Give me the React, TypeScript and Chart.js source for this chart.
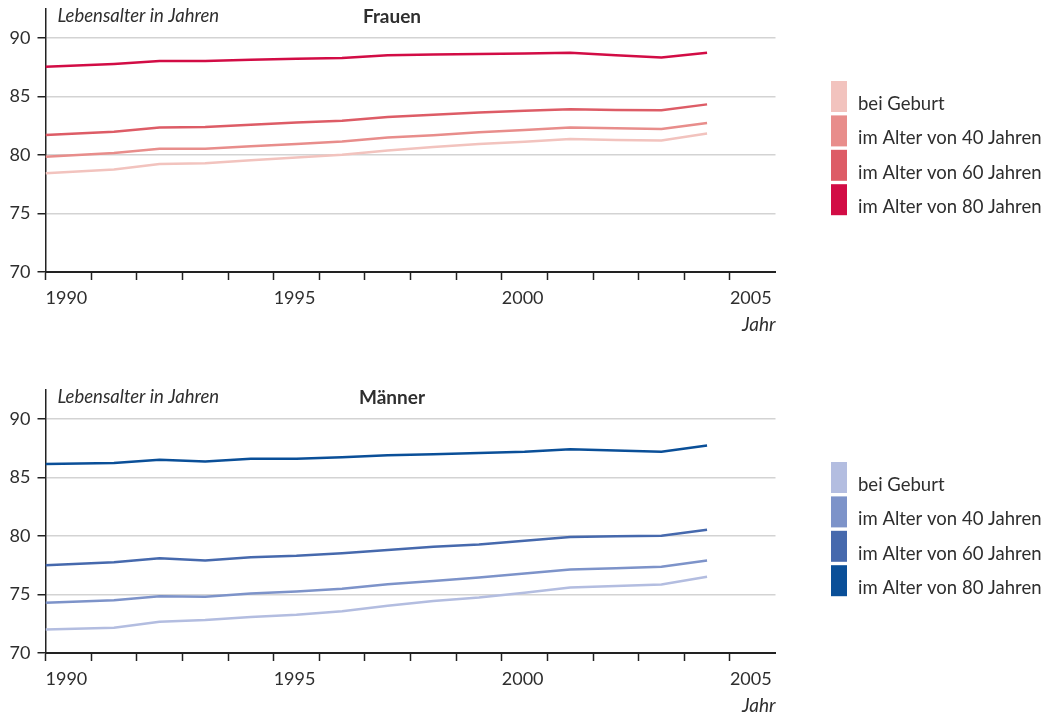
import React, { useEffect, useRef } from 'react';
import { Chart, registerables } from 'chart.js';

Chart.register(...registerables);

// ---- data ----
const years = [1990, 1991.5, 1992.5, 1993.5, 1994.5, 1995.5, 1996.5, 1997.5, 1998.5, 1999.5, 2000.5, 2001.5, 2002.5, 2003.5, 2004.5];
const seriesLabels = ['bei Geburt', 'im Alter von 40 Jahren', 'im Alter von 60 Jahren', 'im Alter von 80 Jahren'];

const frauenGeburt = [78.45, 78.76, 79.24, 79.3, 79.55, 79.8, 80.03, 80.4, 80.7, 80.95, 81.15, 81.37, 81.3, 81.25, 81.85];
const frauen40 = [79.86, 80.18, 80.54, 80.54, 80.75, 80.95, 81.17, 81.5, 81.7, 81.95, 82.15, 82.36, 82.3, 82.24, 82.75];
const frauen60 = [81.73, 81.99, 82.36, 82.41, 82.6, 82.8, 82.95, 83.25, 83.45, 83.65, 83.8, 83.92, 83.85, 83.83, 84.34];
const frauen80 = [87.55, 87.8, 88.05, 88.05, 88.15, 88.25, 88.3, 88.55, 88.6, 88.65, 88.7, 88.75, 88.55, 88.35, 88.75];

const maennerGeburt = [72.02, 72.17, 72.68, 72.82, 73.07, 73.27, 73.58, 74.05, 74.45, 74.75, 75.15, 75.61, 75.73, 75.86, 76.52];
const maenner40 = [74.3, 74.52, 74.86, 74.81, 75.09, 75.26, 75.49, 75.88, 76.15, 76.45, 76.8, 77.14, 77.25, 77.37, 77.91];
const maenner60 = [77.51, 77.76, 78.1, 77.91, 78.2, 78.32, 78.53, 78.82, 79.08, 79.28, 79.6, 79.93, 79.98, 80.04, 80.55];
const maenner80 = [86.16, 86.25, 86.53, 86.38, 86.61, 86.62, 86.75, 86.92, 87.0, 87.1, 87.22, 87.44, 87.33, 87.21, 87.75];

const yTicks = [70, 75, 80, 85, 90];
const xTickYears = [1990, 1991, 1992, 1993, 1994, 1995, 1996, 1997, 1998, 1999, 2000, 2001, 2002, 2003, 2004, 2005];
const xTickLabels = [1990, 1995, 2000, 2005];

const frauenColors = ['#f2c3be', '#e88d8b', '#dd5c66', '#d20c45'];
const maennerColors = ['#b3bde0', '#7d93c9', '#4669ad', '#0a4f98'];

const FONT = 'Lato, "Open Sans", sans-serif';
const TEXT = '#2e2e2e';

function makeTextPlugin(title: string) {
  return {
    id: 'texts',
    afterDraw(chart: any) {
      const ctx = chart.ctx;
      ctx.save();
      ctx.textBaseline = 'middle';
      ctx.fillStyle = TEXT;
      ctx.font = 'italic 18.5px ' + FONT;
      ctx.textAlign = 'left';
      ctx.fillText('Lebensalter in Jahren', chart.chartArea.left + 12, 16);
      ctx.font = 'bold 19px ' + FONT;
      ctx.textAlign = 'center';
      ctx.fillText(title, 392, 17);
      chart.data.datasets.forEach((ds: any, i: number) => {
        const top = 81 + i * 34.4;
        ctx.fillStyle = ds.borderColor;
        ctx.fillRect(831, top, 16, 31);
        ctx.fillStyle = TEXT;
        ctx.font = '18.5px ' + FONT;
        ctx.textAlign = 'left';
        ctx.fillText(ds.label, 858, top + 23);
      });
      ctx.restore();
    },
  };
}

function LifeChart({ title, series, colors, top }: { title: string; series: number[][]; colors: string[]; top: number }) {
  const ref = useRef<HTMLCanvasElement>(null);
  useEffect(() => {
    if (!ref.current) return;
    const chart = new Chart(ref.current, {
      type: 'line',
      data: {
        datasets: series.map((vals, i) => ({
          label: seriesLabels[i],
          data: years.map((x, j) => ({ x, y: vals[j] })),
          borderColor: colors[i],
          backgroundColor: colors[i],
          borderWidth: 2.5,
          pointRadius: 0,
          tension: 0,
          fill: false,
        })),
      },
      options: {
        responsive: false,
        animation: false,
        devicePixelRatio: 1,
        layout: { padding: { top: 9, right: 279.5, left: 0, bottom: 0 } },
        plugins: { legend: { display: false }, tooltip: { enabled: false }, title: { display: false } },
        scales: {
          x: {
            type: 'linear',
            min: 1990,
            max: 2006,
            afterBuildTicks: (scale: any) => {
              scale.ticks = xTickYears.map((v) => ({ value: v }));
            },
            afterFit: (scale: any) => {
              scale.height = 73;
              scale.paddingLeft = 0;
              scale.paddingRight = 0;
            },
            ticks: {
              autoSkip: false,
              maxRotation: 0,
              align: 'start',
              padding: 7,
              color: TEXT,
              font: { family: FONT, size: 18 },
              callback: (v: any) => (xTickLabels.includes(Number(v)) ? String(v) : ''),
            },
            grid: {
              drawOnChartArea: false,
              tickLength: 8,
              tickColor: '#222',
              tickWidth: 1.5,
            },
            border: { display: true, color: '#222', width: 2 },
            title: {
              display: true,
              text: 'Jahr',
              align: 'end',
              color: TEXT,
              font: { family: FONT, size: 19, style: 'italic' },
              padding: { top: 0, bottom: 8.6 },
            },
          },
          y: {
            type: 'linear',
            min: 70,
            max: 92.5,
            afterBuildTicks: (scale: any) => {
              scale.ticks = yTicks.map((v) => ({ value: v }));
            },
            afterFit: (scale: any) => {
              scale.width = 45.5;
              scale.paddingTop = 0;
              scale.paddingBottom = 0;
            },
            ticks: {
              padding: 7,
              color: TEXT,
              font: { family: FONT, size: 18 },
            },
            grid: {
              color: '#d3d3d3',
              lineWidth: 1.5,
              tickLength: 8,
              tickColor: '#222',
              tickWidth: 1.5,
            },
            border: { display: true, color: '#222', width: 1.5 },
          },
        },
      },
      plugins: [makeTextPlugin(title)],
    } as any);
    return () => chart.destroy();
  }, []);
  return (
    <canvas
      ref={ref}
      width={1055}
      height={345}
      style={{ position: 'absolute', left: 0, top, width: 1055, height: 345, display: 'block' }}
    />
  );
}

export default function App() {
  return (
    <div style={{ position: 'absolute', left: 0, top: 0, width: 1055, height: 719, background: '#fff', overflow: 'hidden' }}>
      <LifeChart title="Frauen" series={[frauenGeburt, frauen40, frauen60, frauen80]} colors={frauenColors} top={0} />
      <LifeChart title="Männer" series={[maennerGeburt, maenner40, maenner60, maenner80]} colors={maennerColors} top={381} />
    </div>
  );
}
